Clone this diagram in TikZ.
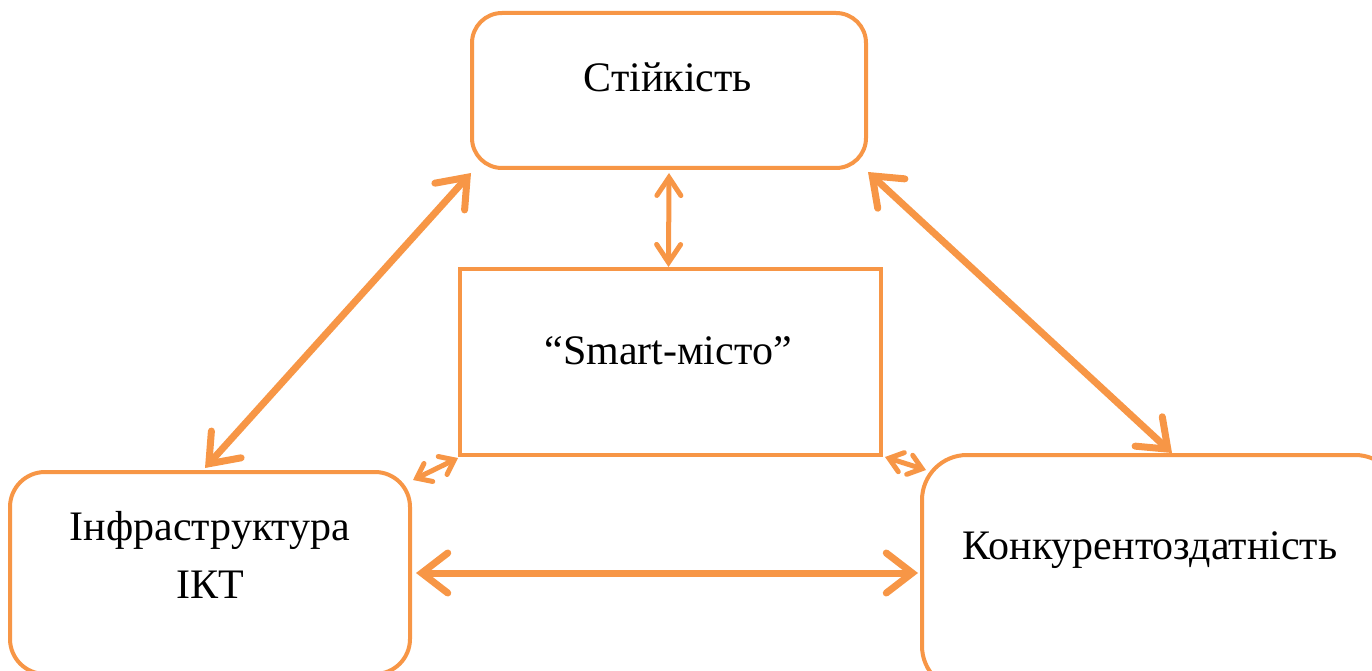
\documentclass[tikz,border=0pt]{standalone}
\usepackage{fontspec}
\setmainfont{Liberation Serif}
\usetikzlibrary{arrows.meta}
\definecolor{acc}{HTML}{F79646}
\tikzset{
  box/.style={draw=acc, line width=4pt, fill=white, inner sep=0pt},
  lbl/.style={font=\fontsize{42}{48}\selectfont, inner sep=0pt, text=black},
  bigarr/.style={draw=acc, line width=7pt, line cap=round,
    {Straight Barb[length=26pt,width=40pt,line cap=round,line width=0pt 1]}-{Straight Barb[length=26pt,width=40pt,line cap=round,line width=0pt 1]}},
  midarr/.style={draw=acc, line width=5pt, line cap=round,
    {Straight Barb[length=18pt,width=24pt,line cap=round,line width=0pt 1]}-{Straight Barb[length=18pt,width=24pt,line cap=round,line width=0pt 1]}},
  smallarr/.style={draw=acc, line width=5pt, line cap=round,
    {Straight Barb[length=13pt,width=20pt,line cap=round,line width=0pt 1]}-{Straight Barb[length=13pt,width=20pt,line cap=round,line width=0pt 1]}}
}
\begin{document}
\begin{tikzpicture}[x=1pt,y=-1pt]
\useasboundingbox (0,0) rectangle (1372,671);
\clip (0,0) rectangle (1372,671);
% boxes
\node[box, rounded corners=30pt, minimum width=394pt, minimum height=155pt] (top) at (669,90.5) {};
\node[box, minimum width=421pt, minimum height=186pt] (mid) at (670.5,362) {};
\node[box, rounded corners=35pt, minimum width=400pt, minimum height=202pt] (left) at (210,573) {};
\node[box, rounded corners=45pt, minimum width=478pt, minimum height=236pt] (right) at (1161,573) {};
% texts
\node[lbl] (ttop) at (668,77) {Стійкість};
\node[lbl] (tmid) at (668,351) {“Smart-місто”};
\node[lbl] (tleft1) at (210,530) {Інфраструктура};
\node[lbl] (tleft2) at (210,585) {ІКТ};
\node[lbl] (tright) at (1150,550) {Конкурентоздатність};
% connectors
\draw[bigarr] ([shift={(1,3)}]top.south west) -- ([shift={(-5,-2)}]left.north);
\draw[bigarr] ([shift={(0,2)}]top.south east) -- ([shift={(11,0)}]right.north);
\draw[midarr] ([shift={(0,3)}]top.south) -- ([shift={(-2,0)}]mid.north);
\draw[smallarr] ([shift={(0,1)}]mid.south west) -- ([shift={(1,10)}]left.north east);
\draw[smallarr] ([shift={(2,0)}]mid.south east) -- ([shift={(6,17)}]right.north west);
\draw[bigarr] ([shift={(4,0)}]left.east) -- ([shift={(-2,0)}]right.west);
\end{tikzpicture}
\end{document}
